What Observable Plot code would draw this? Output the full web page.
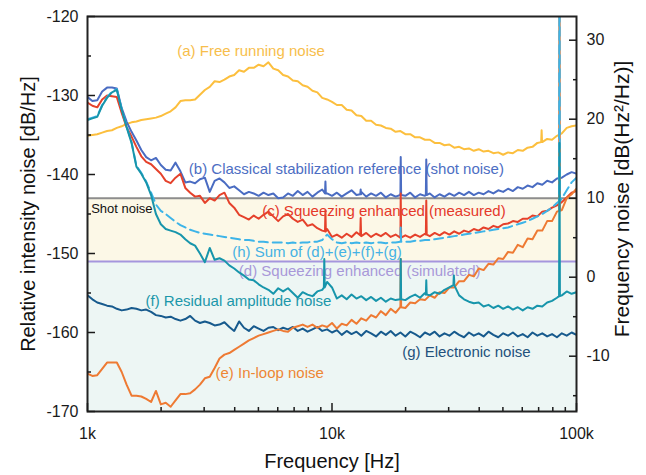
<!DOCTYPE html>
<html><head><meta charset="utf-8">
<script src="https://cdn.jsdelivr.net/npm/d3@7"></script>
<script src="https://cdn.jsdelivr.net/npm/@observablehq/plot@0.6"></script>
<style>html,body{margin:0;padding:0;background:#fff;}</style>
</head><body><div id="chart"></div>
<script>
// Frequency grid (Hz)
const freqs = [
  1000, 1047, 1096, 1148, 1202, 1259, 1318, 1380, 1445, 1514,
  1585, 1660, 1738, 1820, 1905, 1995, 2089, 2188, 2291, 2399,
  2512, 2630, 2754, 2884, 3020, 3162, 3311, 3467, 3631, 3802,
  3981, 4169, 4365, 4571, 4786, 5012, 5248, 5495, 5754, 6026,
  6310, 6607, 6918, 7244, 7586, 7943, 8318, 8710, 9120, 9550,
  10000, 10470, 10960, 11480, 12020, 12590, 13180, 13800, 14450, 15140,
  15850, 16600, 17380, 18200, 19050, 19950, 20890, 21880, 22910, 23990,
  25120, 26300, 27540, 28840, 30200, 31620, 33110, 34670, 36310, 38020,
  39810, 41690, 43650, 45710, 47860, 50120, 52480, 54950, 57540, 60260,
  63100, 66070, 69180, 72440, 75860, 79430, 83180, 87100, 91200, 95500,
  100000
];
// (a) Free running noise
const freeRunning = [
  -135.1, -135.0, -134.9, -134.7, -134.5, -134.4, -134.1, -133.9, -133.6, -133.4,
  -133.3, -133.1, -133.0, -132.9, -132.8, -132.6, -132.3, -132.0, -131.5, -130.7,
  -130.6, -130.6, -130.5, -129.9, -129.3, -128.9, -128.2, -128.3, -128.0, -127.6,
  -127.4, -126.8, -127.0, -126.5, -126.5, -126.1, -126.3, -125.8, -126.6, -126.8,
  -127.4, -127.6, -128.1, -128.2, -128.7, -128.9, -129.4, -129.6, -130.3, -130.5,
  -130.8, -131.2, -131.2, -131.8, -131.9, -132.5, -132.6, -133.2, -133.2, -133.7,
  -133.8, -134.1, -134.2, -134.6, -134.5, -134.9, -134.9, -135.3, -135.3, -135.6,
  -135.6, -136.0, -136.0, -136.3, -136.2, -136.6, -136.5, -136.8, -136.7, -137.0,
  -136.8, -137.1, -137.0, -137.3, -137.2, -137.5, -137.2, -137.3, -136.9, -137.0,
  -136.6, -136.5, -136.0, -135.9, -135.5, -135.6, -135.1, -134.8, -134.1, -133.9,
  -133.8
];
// (b) Classical stabilization reference (shot noise)
const classical = [
  -130.2, -130.7, -130.6, -129.5, -129.0, -129.0, -129.1, -131.6, -133.3, -134.6,
  -135.7, -136.9, -137.8, -138.2, -137.9, -138.8, -139.4, -139.5, -138.5, -139.6,
  -141.0, -140.9, -141.1, -140.6, -140.4, -142.2, -140.8, -140.5, -141.0, -141.7,
  -141.5, -142.0, -142.5, -142.2, -142.4, -142.7, -142.3, -142.6, -142.4, -143.0,
  -142.9, -142.4, -142.7, -142.1, -142.6, -142.2, -142.8, -142.3, -141.9, -142.4,
  -142.7, -142.3, -142.8, -142.4, -142.0, -142.6, -142.2, -142.8, -142.4, -142.7,
  -142.3, -142.9, -142.5, -142.8, -142.4, -142.7, -142.3, -142.9, -142.5, -142.7,
  -142.4, -142.9, -142.5, -142.8, -142.4, -142.7, -142.3, -142.6, -142.2, -142.6,
  -142.3, -142.5, -142.1, -142.4, -142.0, -142.2, -141.8, -142.1, -141.6, -141.8,
  -141.4, -141.6, -141.1, -141.3, -140.8, -141.0, -140.5, -140.4, -140.0, -139.7,
  -139.9
];
// (c) Squeezing enhanced (measured)
const squeezMeasured = [
  -130.9, -131.3, -131.5, -130.5, -130.0, -130.1, -130.2, -132.2, -134.0, -135.2,
  -136.5, -137.7, -138.4, -138.7, -139.3, -139.9, -140.8, -141.1, -140.4, -139.9,
  -141.7, -142.3, -142.8, -142.7, -143.6, -143.0, -143.3, -142.6, -142.3, -143.6,
  -144.2, -145.1, -145.4, -145.7, -145.2, -145.6, -145.1, -144.7, -145.3, -145.9,
  -145.3, -145.0, -145.6, -146.0, -145.7, -146.5, -146.3, -146.8, -147.1, -146.9,
  -147.9, -147.6, -148.0, -147.5, -147.9, -147.3, -147.8, -147.4, -147.9, -147.5,
  -147.8, -147.4, -147.9, -147.6, -148.0, -147.7, -148.0, -147.6, -147.9, -147.5,
  -147.8, -147.4, -147.7, -147.3, -147.6, -147.2, -147.5, -147.1, -147.3, -146.9,
  -147.1, -146.7, -146.9, -146.5, -146.7, -146.3, -146.2, -145.9, -146.0, -145.6,
  -145.6, -145.2, -145.3, -144.7, -144.6, -144.2, -143.9, -143.5, -142.9, -142.3,
  -142.1
];
// (e) In-loop noise
const inLoop = [
  -165.2, -165.5, -165.4, -164.6, -163.8, -163.8, -163.8, -165.0, -166.6, -168.0,
  -168.0, -168.1, -168.4, -168.8, -167.4, -169.1, -168.9, -169.4, -168.6, -167.8,
  -167.8, -167.7, -167.2, -166.6, -165.8, -165.6, -164.5, -163.3, -162.8, -162.6,
  -162.2, -161.8, -161.4, -161.0, -160.7, -160.4, -160.2, -160.0, -159.8, -159.6,
  -159.8, -159.9, -159.4, -159.2, -159.0, -159.3, -159.0, -159.4, -159.1, -159.3,
  -158.8, -159.5, -158.9, -159.1, -158.4, -158.9, -158.2, -158.5, -157.8, -158.1,
  -157.3, -157.8, -157.0, -157.5, -156.6, -156.9, -156.2, -156.3, -155.8, -155.9,
  -155.3, -155.6, -154.9, -155.0, -154.3, -154.3, -153.5, -153.5, -152.7, -152.9,
  -151.9, -152.1, -151.3, -151.4, -150.6, -150.7, -149.8, -149.9, -148.9, -149.2,
  -148.1, -148.2, -147.1, -147.1, -145.9, -145.9, -144.7, -144.5, -143.0, -142.5,
  -141.8
];
// (f) Residual amplitude noise
const residualAM = [
  -133.1, -132.9, -132.7, -131.3, -130.3, -129.6, -129.3, -131.8, -134.0, -136.0,
  -139.0, -139.9, -141.0, -142.6, -145.0, -146.3, -146.9, -147.1, -147.3, -147.6,
  -148.2, -148.7, -149.0, -150.0, -151.1, -149.3, -150.8, -150.6, -150.9, -151.5,
  -151.9, -152.4, -152.8, -153.3, -153.4, -153.9, -154.3, -154.6, -155.1, -154.4,
  -154.8, -154.4, -155.0, -155.6, -154.9, -155.2, -155.4, -154.8, -154.6, -153.6,
  -154.3, -155.7, -155.3, -155.8, -155.2, -155.7, -155.4, -155.9, -155.5, -156.0,
  -155.6, -156.1, -155.7, -155.9, -155.6, -155.9, -155.5, -155.2, -155.6, -155.0,
  -155.3, -154.9, -155.1, -154.6, -154.3, -153.5, -155.3, -155.8, -156.1, -156.3,
  -156.2, -156.7, -156.5, -156.9, -156.6, -157.0, -156.7, -157.1, -156.8, -157.2,
  -156.8, -157.0, -156.6, -156.7, -156.2, -156.0, -155.6, -155.3, -154.8, -155.1,
  -154.9
];
// (g) Electronic noise
const electronic = [
  -155.3, -155.8, -156.2, -156.4, -156.6, -156.7, -157.0, -157.2, -157.1, -156.9,
  -157.0, -157.2, -157.1, -157.4, -157.8, -157.9, -158.1, -158.0, -158.3, -158.5,
  -158.3, -157.9, -158.5, -158.8, -158.6, -158.8, -159.1, -159.0, -158.7, -159.3,
  -159.8, -158.6, -159.4, -159.8, -159.2, -159.5, -159.8, -159.4, -159.3, -159.7,
  -159.4, -159.6, -159.3, -159.8, -159.5, -159.9, -159.6, -159.3, -159.8, -159.6,
  -160.0, -159.7, -160.3, -159.8, -160.2, -159.9, -160.4, -159.8, -160.1, -160.5,
  -159.9, -160.3, -159.8, -160.4, -160.0, -160.5, -159.9, -160.2, -160.6, -160.0,
  -160.3, -159.9, -160.5, -160.1, -160.4, -159.9, -160.3, -160.6, -160.0, -160.4,
  -160.1, -160.5, -159.9, -160.3, -160.6, -160.1, -160.4, -160.0, -160.5, -160.2,
  -160.6, -160.0, -160.4, -160.1, -160.5, -160.2, -160.6, -160.1, -160.4, -160.0,
  -160.3
];
// (h) Sum of (d)+(e)+(f)+(g)
const sumNoise = [
  -133.0, -132.8, -132.6, -131.2, -130.2, -129.5, -129.2, -131.7, -133.9, -135.9,
  -138.9, -139.8, -140.9, -142.3, -143.8, -144.6, -145.0, -145.5, -146.0, -146.4,
  -146.7, -147.0, -147.2, -147.4, -147.5, -147.6, -147.7, -147.8, -147.9, -148.0,
  -148.1, -148.2, -148.3, -148.3, -148.4, -148.5, -148.5, -148.6, -148.6, -148.6,
  -148.6, -148.7, -148.6, -148.7, -148.6, -148.6, -148.5, -148.5, -148.3, -147.6,
  -148.2, -148.6, -148.7, -148.6, -148.7, -148.6, -148.7, -148.6, -148.7, -148.6,
  -148.6, -148.7, -148.6, -148.6, -148.5, -148.5, -148.5, -148.4, -148.4, -148.3,
  -148.3, -148.2, -148.1, -148.0, -147.9, -147.8, -147.7, -147.6, -147.5, -147.4,
  -147.3, -147.2, -147.1, -147.0, -146.9, -146.8, -146.7, -146.5, -146.3, -146.1,
  -145.9, -145.6, -145.3, -145.0, -144.6, -144.2, -143.6, -143.0, -142.0, -141.0,
  -140.4
];
// Narrow spectral spikes: series key, frequency (Hz), peak and base level (dB/Hz)
const spikes = [
  {s: "a", f: 72000, peak: -134.4, base: -135.9},
  {s: "b", f: 9400, peak: -140.9, base: -142.4},
  {s: "b", f: 13100, peak: -141.9, base: -142.5},
  {s: "b", f: 19100, peak: -137.8, base: -142.6},
  {s: "b", f: 24300, peak: -138.1, base: -142.6},
  {s: "c", f: 9400, peak: -144.6, base: -147.2},
  {s: "c", f: 13100, peak: -145.5, base: -147.7},
  {s: "c", f: 19100, peak: -142.4, base: -148.0},
  {s: "c", f: 24300, peak: -143.3, base: -147.6},
  {s: "f", f: 9300, peak: -150.7, base: -154.3},
  {s: "f", f: 19100, peak: -150.7, base: -155.8},
  {s: "f", f: 24300, peak: -153.4, base: -155.2},
  {s: "f", f: 31500, peak: -152.8, base: -154.0},
  {s: "f", f: 85200, peak: -136.0, base: -155.4},
  {s: "e", f: 19100, peak: -150.7, base: -156.8},
  {s: "e", f: 85200, peak: -100.0, base: -144.6},
  {s: "h", f: 19100, peak: -146.7, base: -148.5},
  {s: "h", f: 85200, peak: -100.0, base: -143.4}
];
const shotNoiseLevel = -143;     // shot noise reference
const simulatedLevel = -151;     // (d) squeezing enhanced (simulated)
const yDomain = [-170, -120];
const xDomain = [1000, 100000];
const xMajor = [1000, 10000, 100000];
const xTickLabels = ["1k", "10k", "100k"];
const xMinor = [2000, 3000, 4000, 5000, 6000, 7000, 8000, 9000, 20000, 30000, 40000, 50000, 60000, 70000, 80000, 90000];
const yMajor = [-170, -160, -150, -140, -130, -120];
const yMinor = [-165, -155, -145, -135, -125];
const rightOffset = 153; // right axis value = left value + 153
const rightMajor = [-10, 0, 10, 20, 30];
const rightMinor = [-15, -5, 5, 15, 25];

const annotations = [
  {label: "(a) Free running noise", f: 2328, v: -124.4, color: "#f7be4c", size: 15},
  {label: "(b) Classical stabilization reference (shot noise)", f: 2596, v: -139.35, color: "#4d6ec3", size: 15},
  {label: "(c) Squeezing enhanced (measured)", f: 5183, v: -144.7, color: "#e5392a", size: 15},
  {label: "(h) Sum of (d)+(e)+(f)+(g)", f: 3906, v: -149.8, color: "#45b2e4", size: 15},
  {label: "(d) Squeezing enhanced (simulated)", f: 4157, v: -152.25, color: "#a898d9", size: 15},
  {label: "(f) Residual amplitude noise", f: 1727, v: -156.0, color: "#1b97aa", size: 15},
  {label: "(g) Electronic noise", f: 19370, v: -162.5, color: "#23517c", size: 15},
  {label: "(e) In-loop noise", f: 3338, v: -165.15, color: "#ee8634", size: 15},
  {label: "Shot noise", f: 1035, v: -144.35, color: "#111111", size: 13}
];

function series(vals, key) {
  const pts = freqs.map((f, i) => ({f, v: vals[i]}));
  for (const s of spikes.filter(d => d.s === key)) {
    pts.push({f: s.f * 0.996, v: s.base}, {f: s.f, v: s.peak}, {f: s.f * 1.004, v: s.base});
  }
  return pts.sort((a, b) => a.f - b.f);
}

const lineOpts = (stroke, extra = {}) => ({x: "f", y: "v", stroke, strokeWidth: 2, strokeLinejoin: "round", clip: true, ...extra});

const chart = Plot.plot({
  width: 646, height: 475,
  marginLeft: 87, marginRight: 70, marginTop: 16, marginBottom: 64,
  x: {type: "log", domain: xDomain, label: null},
  y: {domain: yDomain, label: null},
  style: {fontFamily: "'Liberation Sans', Arial, sans-serif", background: "#ffffff", color: "#1a1a1a", overflow: "visible"},
  marks: [
    Plot.rect([0], {x1: xDomain[0], x2: xDomain[1], y1: simulatedLevel, y2: shotNoiseLevel, fill: "#fcf8e7"}),
    Plot.rect([0], {x1: xDomain[0], x2: xDomain[1], y1: yDomain[0], y2: simulatedLevel, fill: "#edf6f4"}),
    Plot.ruleY([shotNoiseLevel], {stroke: "#8d8d8d", strokeWidth: 2}),
    Plot.ruleY([simulatedLevel], {stroke: "#a596dd", strokeWidth: 2}),
    ...annotations.map(a => Plot.text([a], {x: "f", y: "v", text: "label", fill: a.color, fontSize: a.size, textAnchor: "start"})),
    Plot.line(series(freeRunning, "a"), lineOpts("#fcbf3e")),
    Plot.line(series(classical, "b"), lineOpts("#4a6cc2")),
    Plot.line(series(squeezMeasured, "c"), lineOpts("#e5412b")),
    Plot.line(series(electronic, "g"), lineOpts("#175a8d")),
    Plot.line(series(inLoop, "e"), lineOpts("#ee7a33")),
    Plot.line(series(sumNoise, "h"), lineOpts("#3db4e8", {strokeDasharray: "9,5"})),
    Plot.line(series(residualAM, "f"), lineOpts("#1795ab")),
    Plot.frame({stroke: "#222", strokeWidth: 2}),
    Plot.axisX(xMajor, {tickSize: -8, tickPadding: 24, strokeWidth: 1.5, fontSize: 16, tickFormat: d => xTickLabels[xMajor.indexOf(d)]}),
    Plot.axisX(xMinor, {tickSize: -4, strokeWidth: 1.5, tickFormat: () => ""}),
    Plot.axisY(yMajor, {anchor: "left", tickSize: -8, tickPadding: 17, strokeWidth: 1.5, fontSize: 16, tickFormat: d => String(d)}),
    Plot.axisY(yMinor, {anchor: "left", tickSize: -4, strokeWidth: 1.5, tickFormat: () => ""}),
    Plot.axisY(rightMajor.map(r => r - rightOffset), {anchor: "right", tickSize: -8, tickPadding: 18, strokeWidth: 1.5, fontSize: 16, tickFormat: d => String(Math.round(d + rightOffset))}),
    Plot.axisY(rightMinor.map(r => r - rightOffset), {anchor: "right", tickSize: -4, strokeWidth: 1.5, tickFormat: () => ""}),
    Plot.text(["Relative intensity noise [dB/Hz]"], {text: d => d, frameAnchor: "left", dx: -59, rotate: -90, textAnchor: "middle", lineAnchor: "middle", fontSize: 20, fill: "#111"}),
    Plot.text(["Frequency noise [dB(Hz²/Hz)]"], {text: d => d, frameAnchor: "right", dx: 46, dy: -15, rotate: -90, textAnchor: "middle", lineAnchor: "middle", fontSize: 21, fill: "#111"}),
    Plot.text(["Frequency [Hz]"], {text: d => d, frameAnchor: "bottom", dy: 50, textAnchor: "middle", lineAnchor: "middle", fontSize: 20, fill: "#111"})
  ]
});
document.getElementById("chart").appendChild(chart);
</script>
</body></html>
